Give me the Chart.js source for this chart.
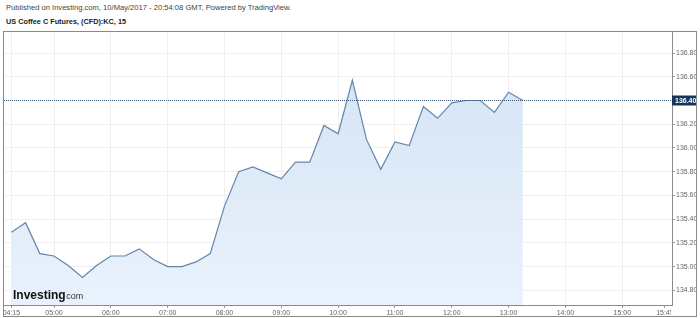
<!DOCTYPE html>
<html>
<head>
<meta charset="utf-8">
<script src="https://cdn.jsdelivr.net/npm/chart.js@4.4.1/dist/chart.umd.min.js"></script>
<style>
  body { margin: 0; background: #fff; font-family: "Liberation Sans", Arial, sans-serif; }
  #pub { position: absolute; left: 6px; top: 3px; font-size: 7.6px; color: #444; }
  #title { position: absolute; left: 6px; top: 17px; font-size: 7.3px; font-weight: bold; color: #222; }
  #box { position: absolute; left: 3px; top: 31px; width: 692px; height: 284px; border: 1px solid #8a8a8a; }
</style>
</head>
<body>
<div id="pub">Published on Investing.com, 10/May/2017 - 20:54:08 GMT, Powered by TradingView.</div>
<div id="title">US Coffee C Futures, (CFD):KC, 15</div>
<div id="box"><canvas id="chart"></canvas></div>
<script>
// 15 minute bars
const times = ["04:15","04:30","04:45","05:00","05:15","05:30","05:45","06:00","06:15","06:30","06:45",
  "07:00","07:15","07:30","07:45","08:00","08:15","08:30","08:45","09:00","09:15","09:30","09:45",
  "10:00","10:15","10:30","10:45","11:00","11:15","11:30","11:45","12:00","12:15","12:30","12:45",
  "13:00","13:15"];
const prices = [135.29, 135.37, 135.11, 135.09, 135.01, 134.91, 135.01, 135.09, 135.09, 135.15, 135.06,
  135.00, 135.00, 135.04, 135.11, 135.51, 135.80, 135.84, 135.79, 135.74, 135.88, 135.88, 136.19,
  136.12, 136.57, 136.07, 135.82, 136.05, 136.02, 136.35, 136.25, 136.38, 136.40, 136.40, 136.30,
  136.47, 136.40];
const xTickLabels = ["04:15","05:00","06:00","07:00","08:00","09:00","10:00","11:00","12:00","13:00","14:00","15:00","15:45"];
const yTicks = [134.8, 135.0, 135.2, 135.4, 135.6, 135.8, 136.0, 136.2, 136.4, 136.6, 136.8];

function toMin(s) {
  const p = s.split(":");
  return parseInt(p[0]) * 60 + parseInt(p[1]);
}

const points = times.map((t, i) => ({ x: toMin(t), y: prices[i] }));
const xTickValues = xTickLabels.map(toMin);
const font = { family: "'Liberation Sans', Arial, sans-serif", size: 7 };

// dotted last price line and the label box on the price axis
const lastPrice = {
  id: "lastPrice",
  afterDatasetsDraw(chart) {
    const ctx = chart.ctx;
    const area = chart.chartArea;
    const v = prices[prices.length - 1];
    const y = Math.round(chart.scales.y.getPixelForValue(v)) + 0.5;
    ctx.save();
    ctx.strokeStyle = "#3e5a78";
    ctx.lineWidth = 1;
    ctx.setLineDash([1, 1]);
    ctx.beginPath();
    ctx.moveTo(area.left, y);
    ctx.lineTo(area.right, y);
    ctx.stroke();
    ctx.setLineDash([]);
    ctx.fillStyle = "#15365c";
    ctx.fillRect(area.right, y - 5, chart.width - area.right, 10);
    ctx.fillStyle = "#fff";
    ctx.font = "bold 7px 'Liberation Sans', Arial, sans-serif";
    ctx.textBaseline = "middle";
    ctx.fillText(v.toFixed(2), area.right + 3, y + 0.5);
    ctx.restore();
  }
};

// x labels are cut off at the price axis, like the original
const clipXLabels = {
  id: "clipXLabels",
  afterLayout(chart) {
    const s = chart.scales.x;
    if (s._clipWrapped) return;
    const orig = s.drawLabels.bind(s);
    s.drawLabels = function (area) {
      const ctx = chart.ctx;
      ctx.save();
      ctx.beginPath();
      ctx.rect(0, 0, chart.chartArea.right - 1, chart.height);
      ctx.clip();
      orig(area);
      ctx.restore();
    };
    s._clipWrapped = true;
  }
};

new Chart(document.getElementById("chart"), {
  type: "line",
  data: {
    datasets: [{
      data: points,
      borderColor: "#6585a8",
      borderWidth: 1.2,
      pointRadius: 0,
      tension: 0,
      fill: "start",
      backgroundColor: function (context) {
        const a = context.chart.chartArea;
        if (!a) return "rgba(215,230,245,0.8)";
        const g = context.chart.ctx.createLinearGradient(0, a.top, 0, a.bottom);
        g.addColorStop(0, "#d3e2f3");
        g.addColorStop(1, "#e9f2fc");
        return g;
      }
    }]
  },
  options: {
    responsive: true,
    maintainAspectRatio: false,
    animation: false,
    layout: { padding: 0 },
    plugins: {
      legend: { display: false },
      tooltip: { enabled: false }
    },
    scales: {
      x: {
        type: "linear",
        min: 247.2,
        max: 952.5,
        afterBuildTicks: function (scale) {
          scale.ticks = xTickValues.map(v => ({ value: v }));
        },
        afterFit: function (scale) {
          scale.height = 11;
          scale.paddingLeft = 0;
          scale.paddingRight = 0;
        },
        ticks: {
          font: font,
          color: "#666",
          padding: 1,
          maxRotation: 0,
          autoSkip: false,
          callback: function (value) {
            const i = xTickValues.indexOf(value);
            return i >= 0 ? xTickLabels[i] : "";
          }
        },
        grid: {
          color: function (c) { return c.tick && c.tick.value === 945 ? "rgba(0,0,0,0)" : "#efefef"; },
          tickColor: "#999",
          tickLength: 3
        },
        border: { color: "#8a8a8a", width: 1 }
      },
      y: {
        position: "right",
        min: 134.677,
        max: 136.977,
        afterBuildTicks: function (scale) {
          scale.ticks = yTicks.map(v => ({ value: v }));
        },
        afterFit: function (scale) {
          scale.width = 24;
          scale.paddingTop = 0;
          scale.paddingBottom = 0;
        },
        ticks: {
          font: font,
          color: "#666",
          padding: 1,
          callback: function (value) { return value.toFixed(2); }
        },
        grid: {
          color: "#f0f0f0",
          tickColor: "#999",
          tickLength: 3
        },
        border: { color: "#8a8a8a", width: 1 }
      }
    }
  },
  plugins: [lastPrice, clipXLabels, {
    id: "logo",
    afterDatasetsDraw(chart) {
      const ctx = chart.ctx;
      ctx.save();
      ctx.fillStyle = "#111";
      ctx.font = "bold 12px 'Liberation Sans', Arial, sans-serif";
      ctx.textBaseline = "alphabetic";
      ctx.fillText("Investing", 9, 267);
      const w = ctx.measureText("Investing").width;
      ctx.fillStyle = "#333";
      ctx.font = "9px 'Liberation Sans', Arial, sans-serif";
      ctx.fillText("com", 9 + w + 0.5, 267);
      ctx.restore();
    }
  }]
});
</script>
</body>
</html>
